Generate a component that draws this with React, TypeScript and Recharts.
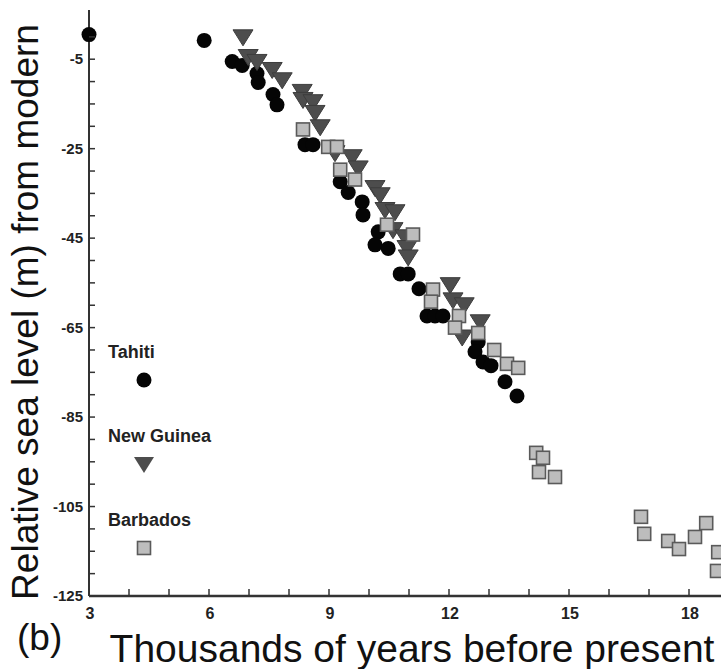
import { ScatterChart, Scatter, XAxis, YAxis, Legend } from "recharts";

// Tahiti (circles)
const tahitiAge = [3.0, 5.88, 6.58, 6.83, 7.2, 7.23, 7.6, 7.7, 8.4, 8.6, 9.28, 9.48, 9.83, 9.85, 10.23, 10.15, 10.48, 10.78, 10.98, 11.25, 11.45, 11.65, 11.85, 12.73, 12.65, 12.85, 13.05, 13.4, 13.7];
const tahitiLevel = [0.5, -0.8, -5.5, -6.4, -8.2, -10.2, -12.9, -15.2, -24.1, -24.1, -32.4, -34.8, -36.9, -39.8, -43.6, -46.5, -47.3, -53.0, -53.0, -56.3, -62.4, -62.4, -62.4, -68.2, -70.4, -72.7, -73.5, -77.1, -80.3];

// New Guinea (triangles)
const guineaAge = [6.85, 6.98, 7.2, 7.58, 7.83, 8.33, 8.35, 8.6, 8.65, 8.78, 9.15, 9.58, 9.73, 10.15, 10.28, 10.4, 10.65, 10.6, 10.9, 10.95, 10.98, 12.03, 12.1, 12.38, 12.78, 12.33];
const guineaLevel = [0.0, -4.4, -5.5, -7.3, -9.6, -12.2, -14.0, -14.5, -16.9, -20.1, -25.9, -26.8, -29.3, -33.7, -35.3, -38.6, -39.1, -43.1, -44.7, -47.1, -49.2, -55.4, -58.8, -59.9, -63.7, -67.1];

// Barbados (squares)
const barbadosAge = [8.35, 8.98, 9.2, 9.28, 9.65, 10.45, 11.1, 11.6, 11.55, 12.25, 12.15, 12.73, 13.13, 13.45, 13.73, 14.18, 14.35, 14.25, 14.65, 16.8, 16.88, 17.48, 17.75, 18.15, 18.43, 18.73, 18.7];
const barbadosLevel = [-20.7, -24.6, -24.6, -29.7, -31.9, -42.0, -44.2, -56.5, -59.2, -62.4, -65.0, -66.2, -70.0, -73.1, -74.0, -93.0, -94.1, -97.3, -98.4, -107.3, -111.1, -112.7, -114.5, -111.8, -108.7, -115.2, -119.4];

const xTicks = [3, 4, 5, 6, 7, 8, 9, 10, 11, 12, 13, 14, 15, 16, 17, 18];
const xLabels = [3, 6, 9, 12, 15, 18];
const yTicks = [-125, -120, -115, -110, -105, -100, -95, -90, -85, -80, -75, -70, -65, -60, -55, -50, -45, -40, -35, -30, -25, -20, -15, -10, -5, 0];
const yLabels = [-125, -105, -85, -65, -45, -25, -5];

const zip = (a: number[], b: number[]) => a.map((age, i) => ({ age, level: b[i] }));
const tahiti = zip(tahitiAge, tahitiLevel);
const guinea = zip(guineaAge, guineaLevel);
const barbados = zip(barbadosAge, barbadosLevel);

const FONT = "'Liberation Sans', Arial, sans-serif";
const AXIS = "#333";

const CircleDot = ({ cx, cy }: any) => <circle cx={cx} cy={cy} r={7.5} fill="#050505" />;
const TriDot = ({ cx, cy }: any) => (
  <polygon
    points={`${cx - 10},${cy - 7} ${cx + 10},${cy - 7} ${cx},${cy + 9}`}
    fill="#4d4d4d"
    stroke="#3d3d3d"
    strokeWidth={1}
  />
);
const SquareDot = ({ cx, cy }: any) => (
  <rect x={cx - 6.5} y={cy - 6.5} width={13} height={13} fill="#bdbdbd" stroke="#5a5a5a" strokeWidth={1.6} />
);

const XTick = ({ x, y, payload }: any) => (
  <g>
    <line x1={x} x2={x} y1={y} y2={y - 7} stroke={AXIS} strokeWidth={1.5} />
    {xLabels.includes(payload.value) && (
      <text x={x + 1} y={y + 23} textAnchor="middle" fontFamily={FONT} fontSize={16} fontWeight="bold" fill="#222">
        {payload.value}
      </text>
    )}
  </g>
);

const YTick = ({ x, y, payload }: any) => (
  <g>
    <line x1={x} x2={x + 6} y1={y} y2={y} stroke={AXIS} strokeWidth={1.5} />
    {yLabels.includes(payload.value) && (
      <text x={x - 6} y={y + 5} textAnchor="end" fontFamily={FONT} fontSize={15} fontWeight="bold" fill="#222">
        {payload.value}
      </text>
    )}
  </g>
);

const legendItems = [
  { name: "Tahiti", marker: <circle cx={10} cy={10} r={7.5} fill="#050505" /> },
  { name: "New Guinea", marker: <polygon points="0,3 20,3 10,19" fill="#4d4d4d" /> },
  { name: "Barbados", marker: <rect x={3.5} y={3.5} width={13} height={13} fill="#bdbdbd" stroke="#5a5a5a" strokeWidth={1.6} /> },
];

const LegendBox = () => (
  <div style={{ fontFamily: FONT }}>
    {legendItems.map((it) => (
      <div key={it.name} style={{ height: 84 }}>
        <div style={{ fontSize: 18, fontWeight: "bold", lineHeight: "22px", color: "#222", whiteSpace: "nowrap" }}>{it.name}</div>
        <svg width={20} height={20} style={{ display: "block", marginLeft: 26, marginTop: 7 }}>
          {it.marker}
        </svg>
      </div>
    ))}
  </div>
);

const YTitle = ({ viewBox }: any) => (
  <text
    x={38}
    y={viewBox.y + viewBox.height / 2 + 9}
    transform={`rotate(-90 38 ${viewBox.y + viewBox.height / 2 + 9})`}
    textAnchor="middle"
    fontFamily={FONT}
    fontSize={37}
    fill="#111"
  >
    Relative sea level (m) from modern
  </text>
);

const XTitle = ({ viewBox }: any) => (
  <g fontFamily={FONT} fill="#111">
    <text x={17} y={viewBox.y + 54} fontSize={37}>
      (b)
    </text>
    <text x={viewBox.x + viewBox.width / 2 + 7} y={viewBox.y + 66} textAnchor="middle" fontSize={39}>
      Thousands of years before present
    </text>
  </g>
);

export default function App() {
  return (
    <div style={{ position: "absolute", left: 0, top: 0, background: "#fff" }}>
      <ScatterChart width={721} height={669} margin={{ top: 10, right: 0, left: 0, bottom: 0 }}>
        <XAxis
          type="number"
          dataKey="age"
          domain={[3, 18.8]}
          ticks={xTicks}
          interval={0}
          height={73}
          tickSize={0}
          tickMargin={0}
          tickLine={false}
          tick={<XTick />}
          axisLine={{ stroke: AXIS, strokeWidth: 2.5 }}
          label={{ content: <XTitle /> }}
        />
        <YAxis
          type="number"
          dataKey="level"
          domain={[-125, 6]}
          ticks={yTicks}
          interval={0}
          width={89}
          tickSize={0}
          tickMargin={0}
          tickLine={false}
          tick={<YTick />}
          axisLine={{ stroke: AXIS, strokeWidth: 2 }}
          label={{ content: <YTitle /> }}
        />
        <Legend
          layout="vertical"
          align="center"
          verticalAlign="middle"
          content={<LegendBox />}
          wrapperStyle={{ left: 108, top: 341, width: 160, height: 260 }}
        />
        <Scatter name="Tahiti" data={tahiti} shape={<CircleDot />} isAnimationActive={false} />
        <Scatter name="New Guinea" data={guinea} shape={<TriDot />} isAnimationActive={false} />
        <Scatter name="Barbados" data={barbados} shape={<SquareDot />} isAnimationActive={false} />
      </ScatterChart>
    </div>
  );
}
